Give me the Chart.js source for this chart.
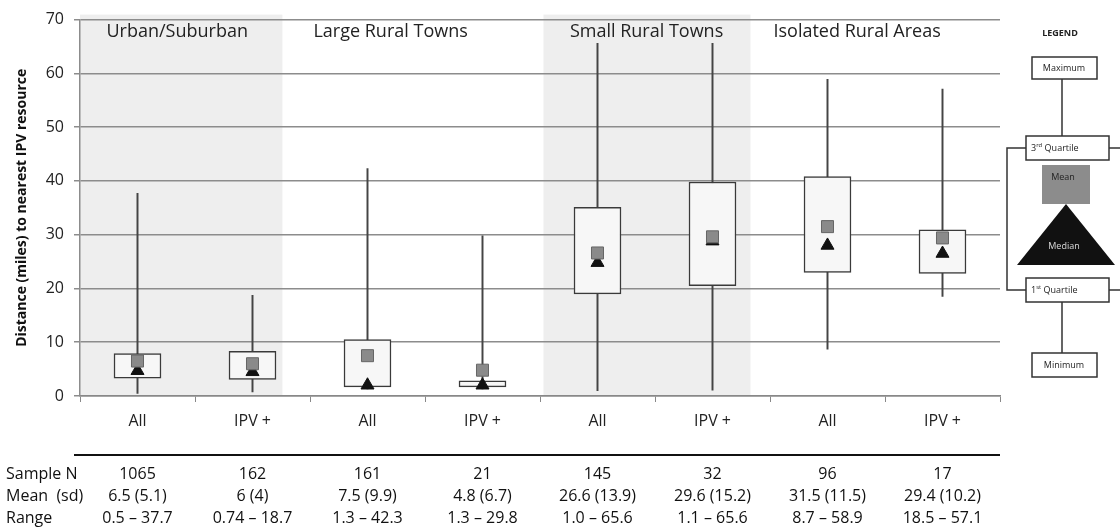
<!DOCTYPE html>
<html>
<head>
<meta charset="utf-8">
<script src="https://cdn.jsdelivr.net/npm/chart.js@4.4.1/dist/chart.umd.min.js"></script>
<style>
  body { margin: 0; background: #fff; }
</style>
</head>
<body>
<canvas id="boxChart" width="1120" height="529"></canvas>
<script>
const categories = ['All', 'IPV +', 'All', 'IPV +', 'All', 'IPV +', 'All', 'IPV +'];
const groups = ['Urban/Suburban', 'Large Rural Towns', 'Small Rural Towns', 'Isolated Rural Areas'];
const minValues = [0.5, 0.74, 1.3, 1.3, 1.0, 1.1, 8.7, 18.5];
const q1Values = [3.3, 3.1, 1.7, 1.7, 19.0, 20.5, 23.0, 22.8];
const medianValues = [4.7, 4.5, 2.0, 2.0, 24.8, 28.8, 28.0, 26.5];
const meanValues = [6.5, 6, 7.5, 4.8, 26.6, 29.6, 31.5, 29.4];
const q3Values = [7.9, 8.3, 10.5, 2.8, 35.1, 39.8, 40.8, 30.9];
const maxValues = [37.7, 18.7, 42.3, 29.8, 65.6, 65.6, 58.9, 57.1];
const sdValues = [5.1, 4, 9.9, 6.7, 13.9, 15.2, 11.5, 10.2];
const sampleN = [1065, 162, 161, 21, 145, 32, 96, 17];
const rangeLabels = ['0.5 \u2013 37.7', '0.74 \u2013 18.7', '1.3 \u2013 42.3', '1.3 \u2013 29.8',
                     '1.0 \u2013 65.6', '1.1 \u2013 65.6', '8.7 \u2013 58.9', '18.5 \u2013 57.1'];
const yTicks = [0, 10, 20, 30, 40, 50, 60, 70];

const FONT = '"Open Sans", sans-serif';

// grey bands behind the grid + white background
const groupBands = {
  id: 'groupBands',
  beforeDraw(chart) {
    const { ctx, chartArea, scales: { x } } = chart;
    ctx.save();
    ctx.fillStyle = '#fff';
    ctx.fillRect(0, 0, chart.width, chart.height);
    ctx.fillStyle = '#eeeeee';
    [[-0.5, 1.26], [3.53, 5.33]].forEach(([a, b]) => {
      const x0 = x.getPixelForValue(a);
      const x1 = x.getPixelForValue(b);
      ctx.fillRect(x0, chartArea.top - 5, x1 - x0, chartArea.bottom - chartArea.top + 5);
    });
    ctx.restore();
  },
  afterDraw(chart) {
    const { ctx, chartArea, scales: { x } } = chart;
    ctx.save();
    // group titles
    ctx.fillStyle = '#222';
    ctx.font = '18px ' + FONT;
    ctx.textBaseline = 'middle';
    ctx.textAlign = 'left';
    [-0.27, 1.53, 3.76, 5.53].forEach((pos, i) => {
      ctx.fillText(groups[i], x.getPixelForValue(pos), 32);
    });

    // table under the axis
    ctx.strokeStyle = '#111';
    ctx.lineWidth = 2;
    ctx.beginPath();
    ctx.moveTo(chartArea.left - 6, 455);
    ctx.lineTo(chartArea.right, 455);
    ctx.stroke();

    ctx.font = '16px ' + FONT;
    ctx.fillStyle = '#111';
    ctx.textAlign = 'left';
    ctx.fillText('Sample N', 6, 474);
    ctx.fillText('Mean  (sd)', 6, 496);
    ctx.fillText('Range', 6, 518);
    ctx.textAlign = 'center';
    categories.forEach((c, i) => {
      const px = x.getPixelForValue(i);
      ctx.fillText(String(sampleN[i]), px, 474);
      ctx.fillText(meanValues[i] + ' (' + sdValues[i] + ')', px, 496);
      ctx.fillText(rangeLabels[i], px, 518);
    });
    ctx.restore();
  }
};

// the explanatory legend on the right
const boxLegend = {
  id: 'boxLegend',
  afterDraw(chart) {
    const ctx = chart.ctx;
    ctx.save();
    ctx.strokeStyle = '#333';
    ctx.lineWidth = 1.5;
    ctx.fillStyle = '#222';
    ctx.textAlign = 'center';
    ctx.textBaseline = 'middle';
    ctx.font = 'bold 9px ' + FONT;
    ctx.fillText('LEGEND', 1060, 33);

    // connectors
    ctx.beginPath();
    ctx.moveTo(1062, 79); ctx.lineTo(1062, 136);
    ctx.moveTo(1062, 302); ctx.lineTo(1062, 353);
    ctx.moveTo(1026, 148); ctx.lineTo(1007, 148); ctx.lineTo(1007, 290); ctx.lineTo(1026, 290);
    ctx.moveTo(1109, 148); ctx.lineTo(1120, 148);
    ctx.moveTo(1109, 290); ctx.lineTo(1120, 290);
    ctx.stroke();

    ctx.fillStyle = '#fff';
    const boxes = [[1032, 57, 65, 22], [1026, 136, 83, 24], [1026, 278, 83, 24], [1032, 353, 65, 24]];
    boxes.forEach(([bx, by, bw, bh]) => {
      ctx.fillRect(bx, by, bw, bh);
      ctx.strokeRect(bx, by, bw, bh);
    });

    // mean square and median triangle
    ctx.fillStyle = '#8c8c8c';
    ctx.fillRect(1042, 165, 48, 39);
    ctx.fillStyle = '#111';
    ctx.beginPath();
    ctx.moveTo(1066, 204); ctx.lineTo(1115, 265); ctx.lineTo(1017, 265); ctx.closePath();
    ctx.fill();

    ctx.font = '9px ' + FONT;
    ctx.fillStyle = '#222';
    ctx.fillText('Maximum', 1064, 68);
    ctx.fillText('Minimum', 1064, 365);
    ctx.fillText('Mean', 1063, 177);
    ctx.fillStyle = '#ddd';
    ctx.fillText('Median', 1064, 246);

    // 3rd / 1st quartile with superscripts
    ctx.fillStyle = '#222';
    ctx.textAlign = 'left';
    [['3', 'rd', 148], ['1', 'st', 290]].forEach(([n, sup, cy]) => {
      ctx.font = '9px ' + FONT;
      ctx.fillText(n, 1031, cy);
      const w = ctx.measureText(n).width;
      ctx.font = '6px ' + FONT;
      ctx.fillText(sup, 1031 + w, cy - 3);
      const w2 = ctx.measureText(sup).width;
      ctx.font = '9px ' + FONT;
      ctx.fillText(' Quartile', 1031 + w + w2, cy);
    });
    ctx.restore();
  }
};

const boxChart = new Chart(document.getElementById('boxChart').getContext('2d'), {
  type: 'bar',
  data: {
    labels: categories,
    datasets: [
      {
        type: 'line',
        label: 'Mean',
        data: meanValues,
        showLine: false,
        pointStyle: 'rect',
        pointRadius: 8.5,
        pointBackgroundColor: '#8a8a8a',
        pointBorderColor: '#666',
        pointBorderWidth: 1,
        order: 1
      },
      {
        type: 'line',
        label: 'Median',
        data: medianValues,
        showLine: false,
        pointStyle: 'triangle',
        pointRadius: 7.5,
        pointBackgroundColor: '#111',
        pointBorderColor: '#111',
        pointBorderWidth: 1,
        order: 2
      },
      {
        label: 'Quartiles',
        data: categories.map((c, i) => [q1Values[i], q3Values[i]]),
        backgroundColor: '#f7f7f7',
        borderColor: '#3a3a3a',
        borderWidth: 1.5,
        borderSkipped: false,
        barThickness: 47,
        grouped: false,
        order: 3
      },
      {
        label: 'Range',
        data: categories.map((c, i) => [minValues[i], maxValues[i]]),
        backgroundColor: '#444',
        barThickness: 1.3,
        grouped: false,
        order: 4
      }
    ]
  },
  options: {
    responsive: false,
    animation: false,
    layout: { padding: { top: 17, right: 120, left: 0, bottom: 0 } },
    plugins: {
      legend: { display: false },
      tooltip: { enabled: false }
    },
    scales: {
      x: {
        offset: true,
        afterFit: (scale) => { scale.height = 133; },
        grid: { display: true, offset: true, drawOnChartArea: false, tickLength: 6, color: '#888', lineWidth: 1 },
        border: { color: '#888', width: 1.5 },
        ticks: { color: '#222', padding: 10, font: { family: FONT, size: 16 } }
      },
      y: {
        min: 0,
        max: 70,
        afterFit: (scale) => { scale.width = 80; },
        afterBuildTicks: (scale) => { scale.ticks = yTicks.map(v => ({ value: v })); },
        grid: { color: '#8c8c8c', lineWidth: 1.5, tickLength: 6 },
        border: { color: '#8c8c8c', width: 1.5 },
        ticks: { color: '#222', padding: 10, font: { family: FONT, size: 16 } },
        title: {
          display: true,
          text: 'Distance (miles) to nearest IPV resource',
          color: '#111',
          padding: { top: 14, bottom: 0 },
          font: { family: FONT, size: 14, weight: 'bold' }
        }
      }
    }
  },
  plugins: [groupBands, boxLegend]
});
</script>
</body>
</html>
